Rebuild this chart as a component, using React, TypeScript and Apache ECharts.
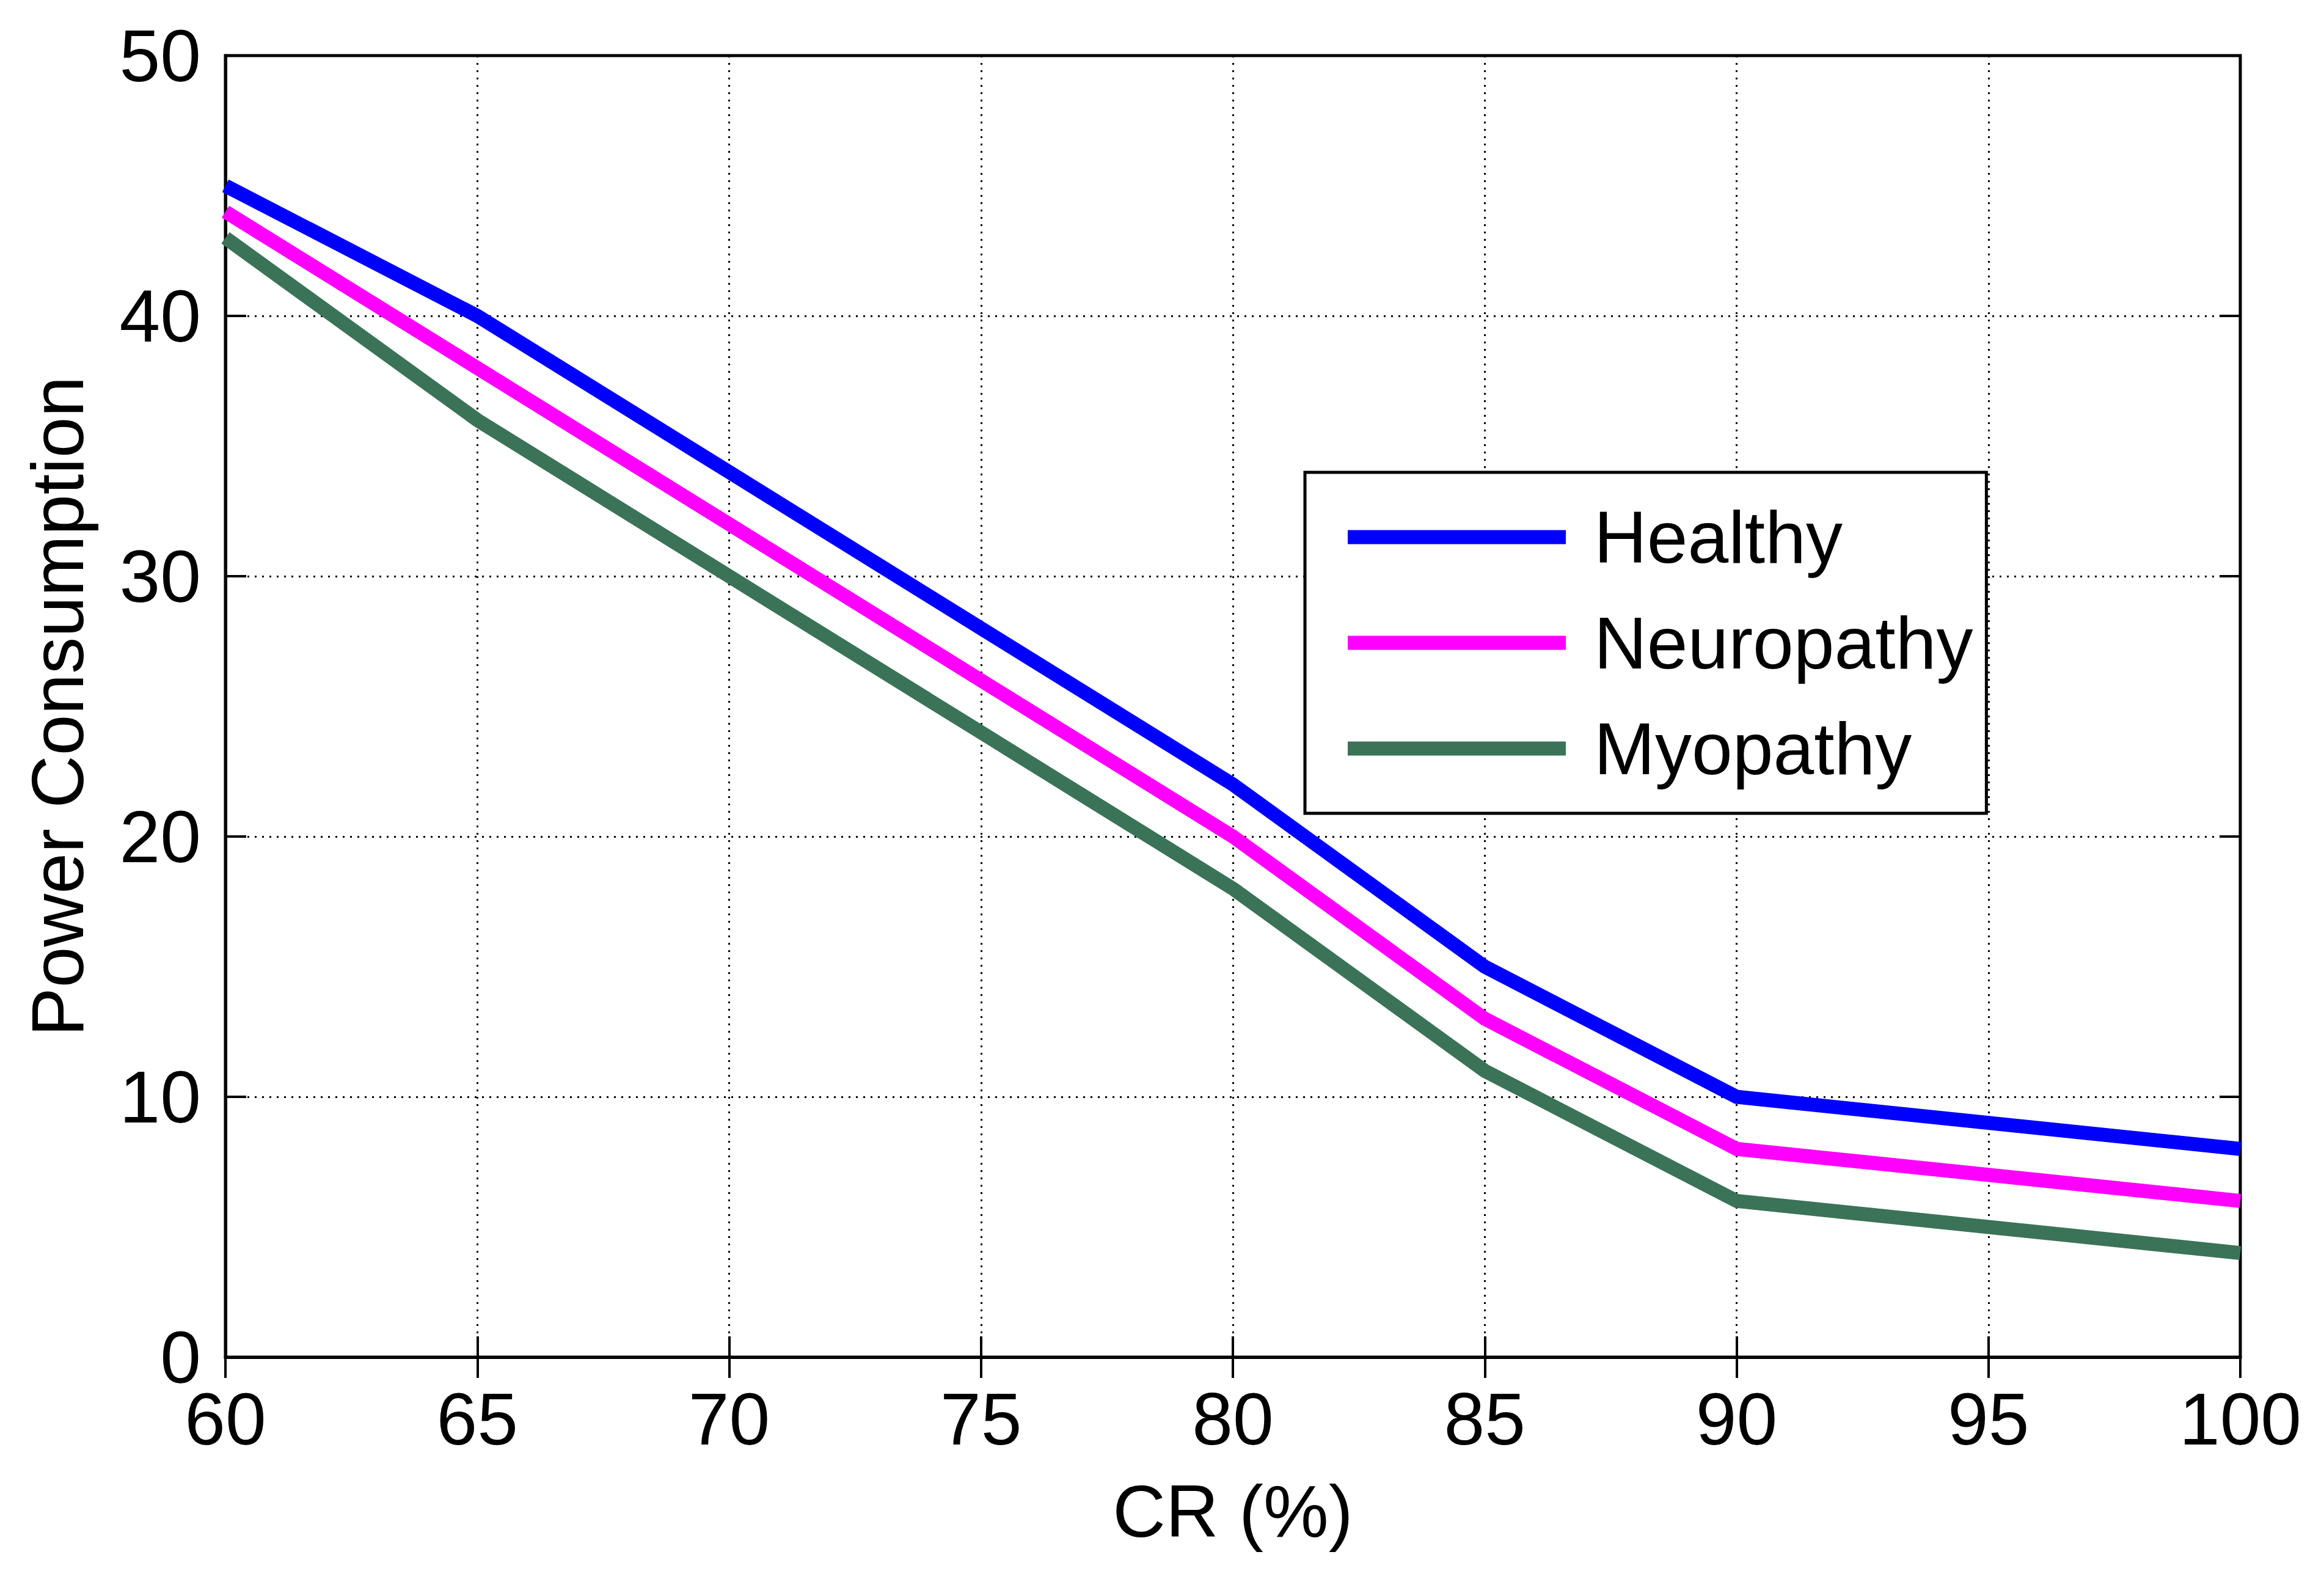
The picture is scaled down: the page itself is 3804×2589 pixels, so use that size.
import React, { useEffect, useRef } from 'react';
import * as echarts from 'echarts';

// CR (%) values on the x axis
const crValues = [60, 65, 70, 75, 80, 85, 90, 95, 100];
const healthy = [45, 40, 34, 28, 22, 15, 10, 9, 8];
const neuropathy = [44, 38, 32, 26, 20, 13, 8, 7, 6];
const myopathy = [43, 36, 30, 24, 18, 11, 6, 5, 4];
const seriesNames = ['Healthy', 'Neuropathy', 'Myopathy'];
const seriesColors = ['#0000ff', '#ff00ff', '#3b7358'];

const FONT = '"Liberation Sans", Arial, sans-serif';
const FS = 120;

const App = () => {
  const chartRef = useRef<HTMLDivElement>(null);

  useEffect(() => {
    document.body.style.margin = '0';
    const chart = echarts.init(chartRef.current!, null, { renderer: 'svg' });

    const toPairs = (ys: number[]) => crValues.map((x, i) => [x, ys[i]]);
    const allValues = [healthy, neuropathy, myopathy];

    const tickStyle = { inside: true, length: 34, lineStyle: { color: '#000', width: 4 } };
    const gridLine = { show: true, lineStyle: { color: '#000', width: 3, type: [3, 9] } };

    chart.setOption({
      animation: false,
      backgroundColor: '#fff',
      grid: {
        left: 369,
        right: 137,
        top: 91,
        bottom: 368,
        show: true,
        borderColor: '#000',
        borderWidth: 5,
        backgroundColor: 'transparent',
      },
      legend: {
        orient: 'vertical',
        left: 2136,
        top: 773,
        data: seriesNames,
        icon: 'rect',
        itemWidth: 357,
        itemHeight: 23,
        itemGap: 53,
        padding: [46, 22, 46, 70],
        backgroundColor: '#fff',
        borderColor: '#000',
        borderWidth: 5,
        borderRadius: 0,
        textStyle: {
          fontFamily: FONT,
          fontSize: FS,
          color: '#000',
          padding: [0, 0, 0, 41],
        },
      },
      xAxis: [
        {
          type: 'value',
          min: 60,
          max: 100,
          interval: 5,
          name: 'CR (%)',
          nameLocation: 'middle',
          nameGap: 192,
          nameTextStyle: { fontFamily: FONT, fontSize: FS, color: '#000' },
          axisLine: { show: true, lineStyle: { color: '#000', width: 5 } },
          axisTick: tickStyle,
          axisLabel: { fontFamily: FONT, fontSize: FS, color: '#000', margin: 56, lineHeight: 90 },
          splitLine: gridLine,
        },
        {
          type: 'value',
          position: 'top',
          min: 60,
          max: 100,
          interval: 5,
          axisLine: { show: false },
          axisTick: tickStyle,
          axisLabel: { show: false },
          splitLine: { show: false },
        },
      ],
      yAxis: [
        {
          type: 'value',
          min: 0,
          max: 50,
          interval: 10,
          name: 'Power Consumption',
          nameLocation: 'middle',
          nameGap: 215,
          nameTextStyle: { fontFamily: FONT, fontSize: FS, color: '#000' },
          axisLine: { show: true, lineStyle: { color: '#000', width: 5 } },
          axisTick: tickStyle,
          axisLabel: { fontFamily: FONT, fontSize: FS, color: '#000', margin: 40, lineHeight: 90 },
          splitLine: gridLine,
        },
        {
          type: 'value',
          position: 'right',
          min: 0,
          max: 50,
          interval: 10,
          axisLine: { show: false },
          axisTick: tickStyle,
          axisLabel: { show: false },
          splitLine: { show: false },
        },
      ],
      series: seriesNames.map((name, i) => ({
        name,
        type: 'line',
        xAxisIndex: 0,
        yAxisIndex: 0,
        data: toPairs(allValues[i]),
        showSymbol: false,
        symbol: 'none',
        color: seriesColors[i],
        lineStyle: { color: seriesColors[i], width: 23, join: 'miter', cap: 'butt' },
        z: 3 - i,
      })),
    });

    return () => {
      chart.dispose();
    };
  }, []);

  return <div style={{ width: '3804px', height: '2589px' }} ref={chartRef}></div>;
};
export default App;
